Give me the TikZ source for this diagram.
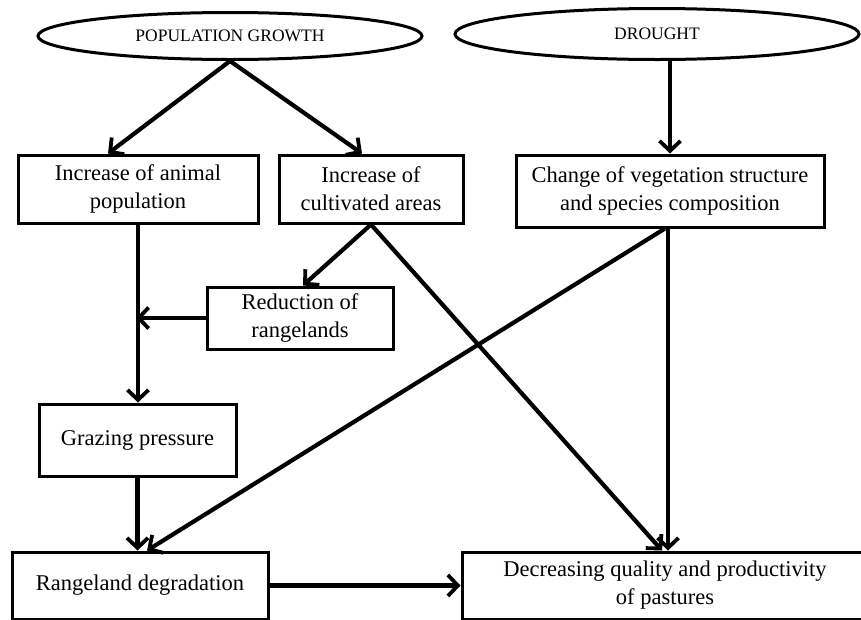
\documentclass[tikz,border=0pt]{standalone}
\usepackage{fontspec}
\setmainfont{Liberation Serif}
\usetikzlibrary{arrows.meta,shapes.geometric}
\begin{document}
\begin{tikzpicture}[x=1pt,y=-1pt,
  boxnode/.style={draw,line width=3pt,rectangle,inner sep=0pt,align=center,
    font=\fontsize{22.5}{28}\selectfont},
  ellnode/.style={draw,line width=3pt,ellipse,inner sep=0pt,
    font=\fontsize{17.5}{20}\selectfont},
  arr/.style={line width=4.2pt,-{Straight Barb[length=10pt,width=21pt,line width=3.8pt]}},
  ]
\useasboundingbox (0,0) rectangle (861,619);
\node[ellnode,minimum width=384pt,minimum height=47pt] (pg) at (230,36) {POPULATION GROWTH};
\node[ellnode,minimum width=404pt,minimum height=51pt] (dr) at (657,34) {DROUGHT};
\node[boxnode,minimum width=240pt,minimum height=68pt] (anim) at (138,189) {Increase of animal\\population};
\node[boxnode,minimum width=184pt,minimum height=68pt] (cult) at (371,189) {Increase of\\cultivated areas};
\node[boxnode,minimum width=308pt,minimum height=72pt] (chg) at (670,191) {Change of vegetation structure\\and species composition};
\node[boxnode,minimum width=186pt,minimum height=62pt] (red) at (300,318) {Reduction of\\rangelands};
\node[boxnode,minimum width=197pt,minimum height=72pt] (graz) at (137.5,440) {Grazing pressure};
\node[boxnode,minimum width=256pt,minimum height=67pt] (rd) at (140,585.5) {Rangeland degradation};
\node[boxnode,minimum width=406pt,minimum height=67pt] (dec) at (665,585.5) {Decreasing quality and productivity\\of pastures};
\draw[arr] (pg.south) -- ([xshift=-30pt]anim.north);
\draw[arr] (pg.south) -- ([xshift=-9pt]cult.north);
\draw[arr] (dr.south -| chg.north) -- (chg.north);
\draw[arr] (anim.south) -- (anim.south |- graz.north);
\draw[arr] (red.west) -- ([xshift=-2pt]red.west -| anim.south);
\draw[arr] (cult.south) -- ([xshift=3pt]red.north);
\draw[arr] (cult.south) -- ([xshift=-3pt]dec.north);
\draw[arr] ([xshift=-5pt]chg.south) -- ([xshift=7pt]rd.north);
\draw[arr] ([xshift=-2pt]chg.south) -- ([xshift=3pt]dec.north);
\draw[arr] (graz.south) -- (graz.south |- rd.north);
\draw[arr] (rd.east) -- (dec.west);
\end{tikzpicture}
\end{document}
